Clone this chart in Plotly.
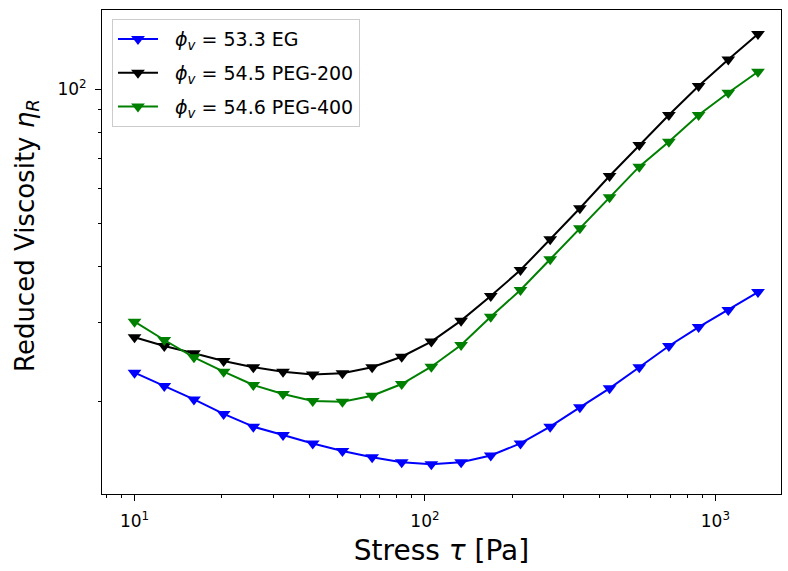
import plotly.graph_objects as go

stress = [10.0, 12.66, 16.02, 20.27, 25.65, 32.46, 41.08, 51.99, 65.79, 83.17,
          105.2, 133.2, 168.5, 213.3, 269.9, 341.6, 432.2, 547.0, 691.8, 875.6,
          1108.0, 1402.0]

eta_eg = [23.15, 21.61, 20.17, 18.71, 17.52, 16.78, 16.06, 15.45, 14.96, 14.58,
          14.43, 14.58, 15.10, 16.07, 17.52, 19.36, 21.36, 23.81, 26.57, 29.3,
          32.0, 35.1]
eta_peg200 = [27.80, 26.57, 25.59, 24.59, 23.81, 23.27, 22.94, 23.08, 23.81, 25.14,
              27.18, 30.29, 34.40, 39.33, 46.10, 54.10, 63.91, 75.03, 87.58, 101.7,
              116.7, 133.0]
eta_peg400 = [30.13, 27.41, 25.07, 23.27, 21.73, 20.74, 20.00, 19.93, 20.56, 21.84,
              23.88, 26.71, 30.91, 35.48, 41.57, 48.79, 57.27, 67.07, 76.31, 87.58,
              98.26, 109.5]

names = ["\u00a0\u00a0<i>ϕ</i><sub><i>v</i></sub> = 53.3 EG",
         "\u00a0\u00a0<i>ϕ</i><sub><i>v</i></sub> = 54.5 PEG-200",
         "\u00a0\u00a0<i>ϕ</i><sub><i>v</i></sub> = 54.6 PEG-400"]
colors = ["#0000ff", "#000000", "#008000"]
series = [eta_eg, eta_peg200, eta_peg400]

x_major = [10, 100, 1000]
x_major_text = ["10<sup>1</sup>", "10<sup>2</sup>", "10<sup>3</sup>"]
x_minor = [8, 9, 20, 30, 40, 50, 60, 70, 80, 90, 200, 300, 400, 500, 600, 700, 800, 900]
y_major = [100]
y_major_text = ["10<sup>2</sup>"]
y_minor = [20, 30, 40, 50, 60, 70, 80, 90]

fig = go.Figure()
for i, (name, col, ys) in enumerate(zip(names, colors, series)):
    fig.add_trace(go.Scatter(
        x=stress, y=ys, name=name, mode="lines+markers", legendgroup=f"g{i}",
        line=dict(color=col, width=2),
        marker=dict(symbol="triangle-down", size=12, color=col),
    ))

# invisible trace to attach minor-tick axes
fig.add_trace(go.Scatter(x=[10], y=[20], xaxis="x2", yaxis="y2",
                         mode="markers", marker=dict(opacity=0),
                         showlegend=False, hoverinfo="skip"))

xr = [0.888, 3.226]
yr = [1.0926, 2.1778]
font = "DejaVu Sans, Arial, sans-serif"

fig.update_layout(
    width=788, height=571,
    margin=dict(l=102, r=7, t=10, b=77),
    paper_bgcolor="white", plot_bgcolor="white",
    font=dict(family=font, color="black"),
    xaxis=dict(type="log", range=xr, tickvals=x_major, ticktext=x_major_text,
               ticks="outside", ticklen=6, tickwidth=1, tickcolor="black",
               showline=True, linecolor="black", linewidth=1, mirror=True,
               showgrid=False, zeroline=False, ticklabelstandoff=6,
               tickfont=dict(size=17, family=font),
               title=dict(text="Stress <i>τ</i> [Pa]", font=dict(size=28, family=font),
                          standoff=9)),
    yaxis=dict(type="log", range=yr, tickvals=y_major, ticktext=y_major_text,
               ticks="outside", ticklen=6, tickwidth=1, tickcolor="black",
               showline=True, linecolor="black", linewidth=1, mirror=True,
               showgrid=False, zeroline=False, ticklabelstandoff=5,
               tickfont=dict(size=17, family=font)),
    xaxis2=dict(type="log", range=xr, overlaying="x", anchor="y", side="bottom",
                tickvals=x_minor, ticktext=[""] * len(x_minor),
                ticks="outside", ticklen=3, tickwidth=1, tickcolor="black",
                showgrid=False, zeroline=False, showline=False),
    yaxis2=dict(type="log", range=yr, overlaying="y", anchor="x", side="left",
                tickvals=y_minor, ticktext=[""] * len(y_minor),
                ticks="outside", ticklen=3, tickwidth=1, tickcolor="black",
                showgrid=False, zeroline=False, showline=False),
    legend=dict(x=0.0147, y=0.981, xanchor="left", yanchor="top",
                bgcolor="rgba(255,255,255,0.8)", bordercolor="#cccccc", borderwidth=1,
                font=dict(size=19, family=font), tracegroupgap=6, itemwidth=40),
    showlegend=True,
    annotations=[dict(text="Reduced Viscosity <i>η</i><sub><i>R</i></sub>",
                      xref="paper", yref="paper", x=-0.112, y=0.535,
                      xanchor="center", yanchor="middle", textangle=-90,
                      showarrow=False, font=dict(size=26, family=font))],
)

fig.write_html("out.html")
